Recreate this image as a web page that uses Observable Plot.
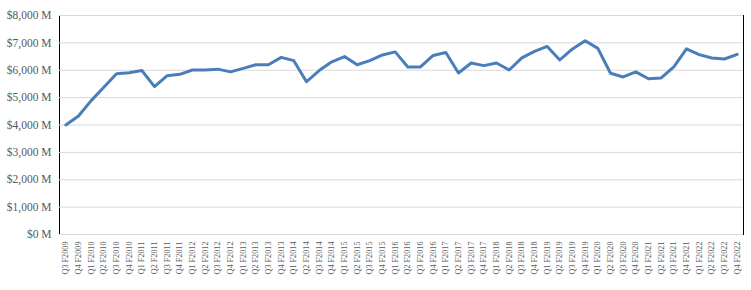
<!DOCTYPE html>
<html>
<head>
<meta charset="utf-8">
<script src="https://cdn.jsdelivr.net/npm/d3@7"></script>
<script src="https://cdn.jsdelivr.net/npm/@observablehq/plot@0.6"></script>
<style>
  html, body { margin: 0; padding: 0; background: white; }
</style>
</head>
<body>
<div id="chart"></div>
<script>
const quarters = [
  "Q3 F2009","Q4 F2009",
  "Q1 F2010","Q2 F2010","Q3 F2010","Q4 F2010",
  "Q1 F2011","Q2 F2011","Q3 F2011","Q4 F2011",
  "Q1 F2012","Q2 F2012","Q3 F2012","Q4 F2012",
  "Q1 F2013","Q2 F2013","Q3 F2013","Q4 F2013",
  "Q1 F2014","Q2 F2014","Q3 F2014","Q4 F2014",
  "Q1 F2015","Q2 F2015","Q3 F2015","Q4 F2015",
  "Q1 F2016","Q2 F2016","Q3 F2016","Q4 F2016",
  "Q1 F2017","Q2 F2017","Q3 F2017","Q4 F2017",
  "Q1 F2018","Q2 F2018","Q3 F2018","Q4 F2018",
  "Q1 F2019","Q2 F2019","Q3 F2019","Q4 F2019",
  "Q1 F2020","Q2 F2020","Q3 F2020","Q4 F2020",
  "Q1 F2021","Q2 F2021","Q3 F2021","Q4 F2021",
  "Q1 F2022","Q2 F2022","Q3 F2022","Q4 F2022"
];
const revenue = [
  4000, 4330,
  4890, 5380, 5870, 5910,
  5990, 5400, 5800, 5850,
  6010, 6010, 6040, 5940,
  6070, 6200, 6200, 6470,
  6350, 5580, 5990, 6310,
  6500, 6200, 6350, 6560,
  6670, 6120, 6120, 6540,
  6650, 5900, 6265, 6170,
  6265, 6010, 6450, 6690,
  6870, 6375, 6780, 7080,
  6800, 5890, 5755, 5940,
  5690, 5720, 6120, 6780,
  6570, 6450, 6410, 6580
];
const yTicks = [0, 1000, 2000, 3000, 4000, 5000, 6000, 7000, 8000];

const data = quarters.map((q, i) => ({q, v: revenue[i]}));
const fmt = d => "$" + d3.format(",")(d) + " M";

const chart = Plot.plot({
  width: 751,
  height: 290,
  marginLeft: 59,
  marginRight: 8,
  marginTop: 15,
  marginBottom: 56,
  style: {fontFamily: "'Liberation Serif', serif", color: "#595959", background: "white"},
  x: {type: "point", domain: quarters, padding: 0.5, label: null},
  y: {domain: [0, 8000], label: null},
  marks: [
    Plot.frame({stroke: "black", strokeWidth: 1}),
    Plot.gridY(yTicks, {stroke: "#d9d9d9", strokeOpacity: 1, strokeWidth: 1}),
    Plot.axisY(yTicks, {tickSize: 0, tickPadding: 8, fontSize: 11.5, tickFormat: fmt, label: null, fill: "#595959"}),
    Plot.axisX({tickSize: 0, tickPadding: 7, tickRotate: -90, fontSize: 8.2, label: null, fill: "#595959"}),
    Plot.line(data, {x: "q", y: "v", stroke: "#4a7ebb", strokeWidth: 3, strokeLinejoin: "round"})
  ]
});
document.getElementById("chart").appendChild(chart);
</script>
</body>
</html>
